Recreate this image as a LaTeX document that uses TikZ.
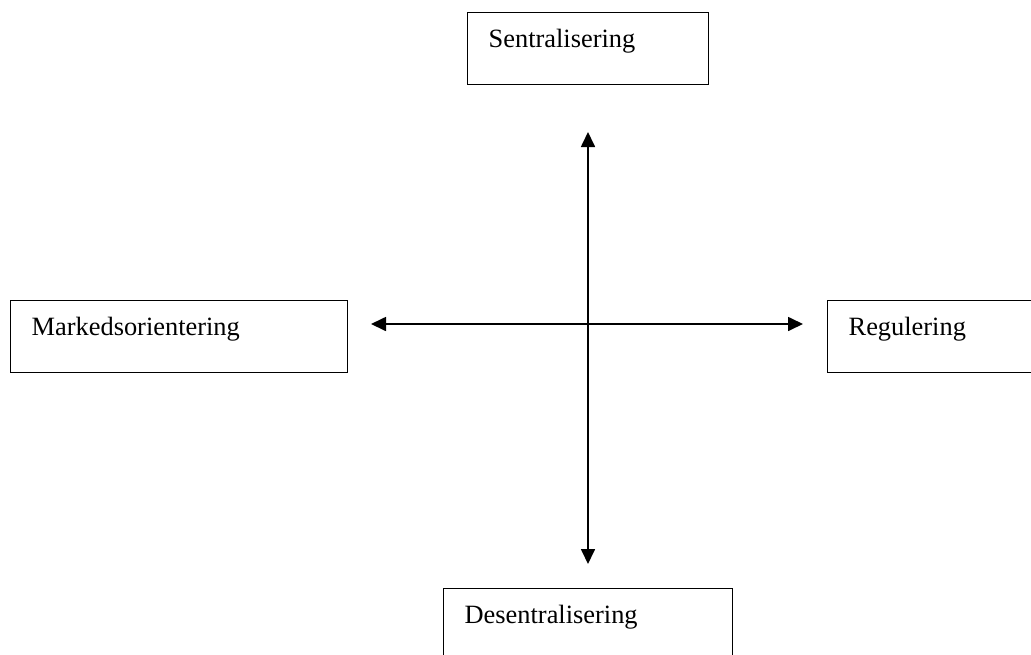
\documentclass[tikz,border=0pt]{standalone}
\usepackage{fontspec}
\setmainfont{Liberation Serif}
\usetikzlibrary{arrows.meta}
\begin{document}
\begin{tikzpicture}[x=1pt,y=-1pt,
  box/.style={draw, line width=1.3pt, anchor=north west, inner ysep=0pt, inner xsep=21pt,
    align=left, text height=35pt, text depth=37pt,
    font=\fontsize{26.4pt}{30pt}\selectfont},
  axis/.style={line width=1.7pt, {Triangle[length=15pt,width=14pt]}-{Triangle[length=15pt,width=14pt]}}]
\useasboundingbox (0,0) rectangle (1031,654);
\clip (0,0) rectangle (1031,654);
\node[box, text width=199pt] (sen) at (467,12) {Sentralisering};
\node[box, text width=295pt] (mark) at (10,300) {Markedsorientering};
\node[box, text width=171pt] (reg) at (827,300) {Regulering};
\node[box, text width=247pt] (des) at (443,588) {Desentralisering};
\coordinate (top) at (588,132);
\coordinate (bot) at (588,564);
\coordinate (left) at (371,324);
\coordinate (right) at (803,324);
\draw[axis] (top) -- (bot);
\draw[axis] (left) -- (right);
\end{tikzpicture}
\end{document}
